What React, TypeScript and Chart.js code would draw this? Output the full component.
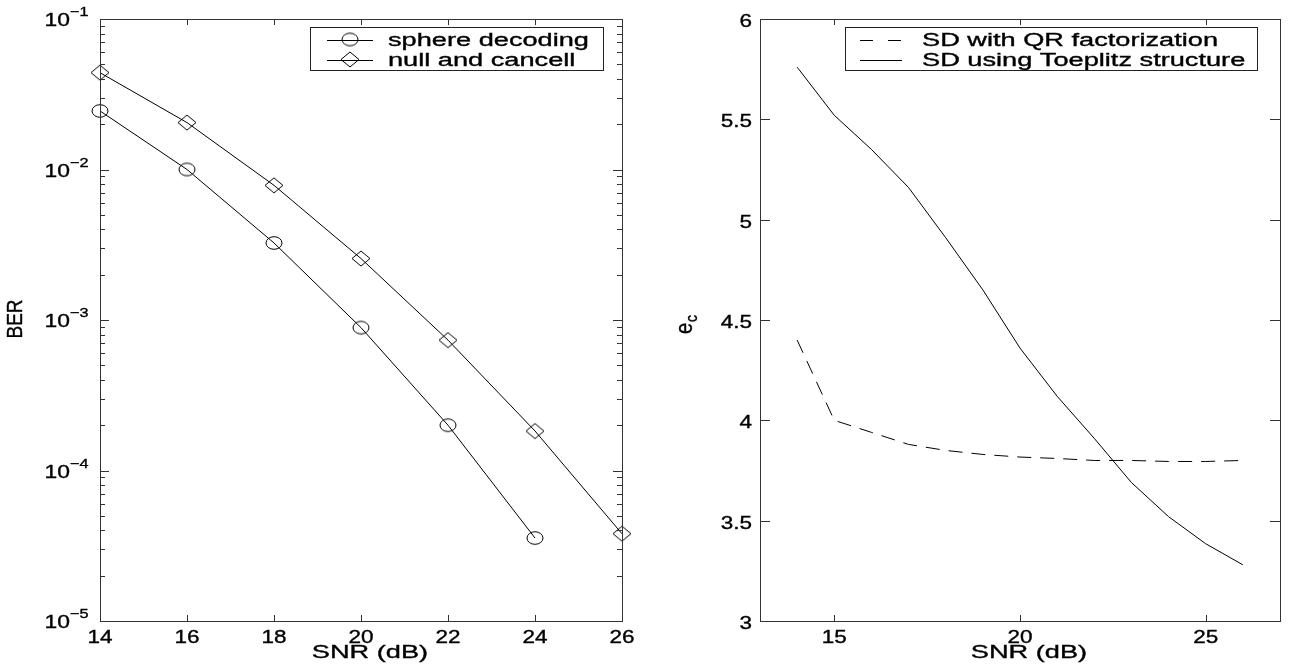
import React, { useEffect, useRef } from "react";
import { Chart, registerables } from "chart.js";

Chart.register(...registerables);

// ---------- data ----------
const snrBer = [14, 16, 18, 20, 22, 24, 26];
const berSphere = [2.45e-2, 1.0e-2, 3.25e-3, 8.9e-4, 2.0e-4, 3.56e-5];
const berNull = [4.4e-2, 2.05e-2, 7.85e-3, 2.56e-3, 7.35e-4, 1.83e-4, 3.8e-5];
const berXTicks = [14, 16, 18, 20, 22, 24, 26];
const berYExponents = [-5, -4, -3, -2, -1];

const snrEc = [14, 15, 16, 17, 18, 19, 20, 21, 22, 23, 24, 25, 26];
const ecQR = [4.4, 4.0, 3.94, 3.88, 3.85, 3.83, 3.817, 3.81, 3.8, 3.8, 3.795, 3.795, 3.8];
const ecToeplitz = [5.76, 5.52, 5.35, 5.16, 4.91, 4.65, 4.36, 4.12, 3.91, 3.69, 3.52, 3.385, 3.28];
const ecXTicks = [15, 20, 25];
const ecYTicks = [3, 3.5, 4, 4.5, 5, 5.5, 6];
const ecYTickLabels = ["3", "3.5", "4", "4.5", "5", "5.5", "6"];

const FONT = '"Liberation Sans", Arial, Helvetica, sans-serif';
const W = 1289;
const H = 669;

function drawText(
  ctx: CanvasRenderingContext2D,
  text: string,
  x: number,
  y: number,
  size: number,
  sx: number,
  align: CanvasTextAlign,
  baseline: CanvasTextBaseline,
  rotate = false
) {
  ctx.save();
  ctx.translate(x, y);
  ctx.scale(sx, 1);
  if (rotate) ctx.rotate(-Math.PI / 2);
  ctx.font = `${size}px ${FONT}`;
  ctx.fillStyle = "#000";
  ctx.strokeStyle = "#000";
  ctx.lineWidth = 0.35;
  ctx.textAlign = align;
  ctx.textBaseline = baseline;
  ctx.fillText(text, 0, 0);
  ctx.strokeText(text, 0, 0);
  ctx.restore();
}

function makeCircle(): HTMLCanvasElement {
  const c = document.createElement("canvas");
  c.width = 20;
  c.height = 16;
  const g = c.getContext("2d")!;
  g.strokeStyle = "#000";
  g.lineWidth = 1;
  g.beginPath();
  g.ellipse(10, 8, 8, 6.3, 0, 0, Math.PI * 2);
  g.stroke();
  return c;
}

function makeDiamond(): HTMLCanvasElement {
  const c = document.createElement("canvas");
  c.width = 20;
  c.height = 17;
  const g = c.getContext("2d")!;
  g.strokeStyle = "#000";
  g.lineWidth = 1;
  g.beginPath();
  g.moveTo(10, 1);
  g.lineTo(19, 8.5);
  g.lineTo(10, 16);
  g.lineTo(1, 8.5);
  g.closePath();
  g.stroke();
  return c;
}

type LegendEntry = { label: string; dash?: number[]; marker?: HTMLCanvasElement };

type AxesCfg = {
  id: string;
  xTicks: number[];
  yTicks: number[];
  yMinor: number[];
  yTickLen: number;
  drawYLabel: (ctx: CanvasRenderingContext2D, y: number, i: number, left: number) => void;
  xTitleX: number;
  drawYTitle: (ctx: CanvasRenderingContext2D) => void;
  legendBox: [number, number, number, number];
  legendLine: [number, number];
  legendTextX: number;
  legend: LegendEntry[];
};

function makeAxesPlugin(cfg: AxesCfg) {
  return {
    id: "matlabAxes_" + cfg.id,
    afterDraw(chart: any) {
      const ctx: CanvasRenderingContext2D = chart.ctx;
      const { left, right, top, bottom } = chart.chartArea;
      const xs = chart.scales.x;
      const ys = chart.scales.y;
      ctx.save();
      // frame
      ctx.strokeStyle = "#333";
      ctx.lineWidth = 1;
      ctx.strokeRect(Math.round(left) + 0.5, Math.round(top) + 0.5, Math.round(right - left), Math.round(bottom - top));
      // x ticks
      ctx.beginPath();
      cfg.xTicks.forEach((v) => {
        const px = Math.round(xs.getPixelForValue(v)) + 0.5;
        ctx.moveTo(px, bottom);
        ctx.lineTo(px, bottom - 6);
        ctx.moveTo(px, top);
        ctx.lineTo(px, top + 6);
      });
      // y ticks
      cfg.yTicks.forEach((v) => {
        const py = Math.round(ys.getPixelForValue(v)) + 0.5;
        ctx.moveTo(left, py);
        ctx.lineTo(left + cfg.yTickLen, py);
        ctx.moveTo(right, py);
        ctx.lineTo(right - cfg.yTickLen, py);
      });
      cfg.yMinor.forEach((v) => {
        const py = Math.round(ys.getPixelForValue(v)) + 0.5;
        ctx.moveTo(left, py);
        ctx.lineTo(left + 5, py);
        ctx.moveTo(right, py);
        ctx.lineTo(right - 5, py);
      });
      ctx.stroke();
      // x tick labels
      cfg.xTicks.forEach((v) => {
        const px = xs.getPixelForValue(v);
        drawText(ctx, String(v), px, 642.5, 18, 1.25, "center", "alphabetic");
      });
      // y tick labels
      cfg.yTicks.forEach((v, i) => {
        cfg.drawYLabel(ctx, ys.getPixelForValue(v), i, left);
      });
      // axis titles
      drawText(ctx, "SNR (dB)", cfg.xTitleX, 658, 18, 1.51, "center", "alphabetic");
      cfg.drawYTitle(ctx);
      // legend
      const [bx1, by1, bx2, by2] = cfg.legendBox;
      ctx.fillStyle = "#fff";
      ctx.fillRect(bx1, by1, bx2 - bx1, by2 - by1);
      ctx.strokeStyle = "#222";
      ctx.lineWidth = 1;
      ctx.setLineDash([]);
      ctx.strokeRect(bx1 + 0.5, by1 + 0.5, bx2 - bx1, by2 - by1);
      cfg.legend.forEach((e, i) => {
        const base = 45.5 + i * 20;
        const ly = base - 6;
        ctx.save();
        ctx.strokeStyle = "#000";
        ctx.lineWidth = 1;
        ctx.setLineDash(e.dash || []);
        ctx.beginPath();
        ctx.moveTo(cfg.legendLine[0], Math.round(ly) + 0.5);
        ctx.lineTo(cfg.legendLine[1], Math.round(ly) + 0.5);
        ctx.stroke();
        ctx.restore();
        if (e.marker) {
          const mx = (cfg.legendLine[0] + cfg.legendLine[1]) / 2;
          ctx.fillStyle = "#fff";
          ctx.drawImage(e.marker, mx - e.marker.width / 2, ly - e.marker.height / 2);
        }
        drawText(ctx, e.label, cfg.legendTextX, base, 18, 1.51, "left", "alphabetic");
      });
      ctx.restore();
    },
  };
}

function baseOptions(yType: "linear" | "logarithmic", xMin: number, xMax: number, yMin: number, yMax: number, yWidth: number, padRight: number) {
  return {
    animation: false as const,
    responsive: false,
    maintainAspectRatio: false,
    events: [] as any[],
    layout: { padding: { left: 0, top: 19, right: padRight, bottom: 0 } },
    plugins: { legend: { display: false }, tooltip: { enabled: false }, title: { display: false } },
    scales: {
      x: {
        type: "linear" as const,
        min: xMin,
        max: xMax,
        grid: { display: false },
        border: { display: false },
        ticks: { display: false },
        afterFit: (s: any) => {
          s.height = 48;
        },
      },
      y: {
        type: yType,
        min: yMin,
        max: yMax,
        grid: { display: false },
        border: { display: false },
        ticks: { display: false },
        afterFit: (s: any) => {
          s.width = yWidth;
        },
      },
    },
  };
}

function pts(xs: number[], ys: number[]) {
  return ys.map((y, i) => ({ x: xs[i], y }));
}

export default function App() {
  const leftRef = useRef<HTMLCanvasElement>(null);
  const rightRef = useRef<HTMLCanvasElement>(null);

  useEffect(() => {
    const circle = makeCircle();
    const diamond = makeDiamond();

    const minor: number[] = [];
    for (let e = -5; e < -1; e++) {
      for (let k = 2; k <= 9; k++) minor.push(k * Math.pow(10, e));
    }

    const leftPlugin = makeAxesPlugin({
      id: "ber",
      xTicks: berXTicks,
      yTicks: berYExponents.map((e) => Math.pow(10, e)),
      yMinor: minor,
      yTickLen: 9,
      drawYLabel: (ctx, y, i) => {
        drawText(ctx, "10", 70, y + 7, 18, 1.27, "right", "alphabetic");
        drawText(ctx, "\u2212" + String(-berYExponents[i]), 70, y - 3, 13, 1.25, "left", "alphabetic");
      },
      xTitleX: 370,
      drawYTitle: (ctx) => {
        drawText(ctx, "BER", 22, 319, 19, 1.2, "center", "alphabetic", true);
      },
      legendBox: [310, 27, 603, 70],
      legendLine: [327, 373],
      legendTextX: 388,
      legend: [
        { label: "sphere decoding", marker: circle },
        { label: "null and cancell", marker: diamond },
      ],
    });

    const leftChart = new Chart(leftRef.current!, {
      type: "line",
      data: {
        datasets: [
          {
            label: "sphere decoding",
            data: pts(snrBer, berSphere),
            borderColor: "#000",
            borderWidth: 1,
            pointStyle: circle as any,
            pointRadius: 8,
            clip: false as any,
          },
          {
            label: "null and cancell",
            data: pts(snrBer, berNull),
            borderColor: "#000",
            borderWidth: 1,
            pointStyle: diamond as any,
            pointRadius: 8,
            clip: false as any,
          },
        ],
      },
      options: baseOptions("logarithmic", 14, 26, 1e-5, 1e-1, 100, W - 622) as any,
      plugins: [leftPlugin],
    });

    const rightPlugin = makeAxesPlugin({
      id: "ec",
      xTicks: ecXTicks,
      yTicks: ecYTicks,
      yMinor: [],
      yTickLen: 10,
      drawYLabel: (ctx, y, i) => {
        drawText(ctx, ecYTickLabels[i], 752, y + 8, 18, 1.25, "right", "alphabetic");
      },
      xTitleX: 1029,
      drawYTitle: (ctx) => {
        drawText(ctx, "e", 692, 334, 20, 1.2, "left", "alphabetic", true);
        drawText(ctx, "c", 697, 322, 14, 1.2, "left", "alphabetic", true);
      },
      legendBox: [845, 27, 1257, 70],
      legendLine: [860, 902],
      legendTextX: 922,
      legend: [
        { label: "SD with QR factorization", dash: [13, 15] },
        { label: "SD using Toeplitz structure" },
      ],
    });

    const rightChart = new Chart(rightRef.current!, {
      type: "line",
      data: {
        datasets: [
          {
            label: "SD with QR factorization",
            data: pts(snrEc, ecQR),
            borderColor: "#000",
            borderWidth: 1,
            borderDash: [14, 9],
            pointRadius: 0,
          },
          {
            label: "SD using Toeplitz structure",
            data: pts(snrEc, ecToeplitz),
            borderColor: "#000",
            borderWidth: 1,
            pointRadius: 0,
          },
        ],
      },
      options: baseOptions("linear", 13, 27, 3, 6, 760, W - 1280) as any,
      plugins: [rightPlugin],
    });

    return () => {
      leftChart.destroy();
      rightChart.destroy();
    };
  }, []);

  const style: React.CSSProperties = { position: "absolute", left: 0, top: 0, width: W, height: H };
  return (
    <div style={{ position: "absolute", left: 0, top: 0, width: W, height: H, background: "#fff" }}>
      <canvas ref={leftRef} width={W} height={H} style={style} />
      <canvas ref={rightRef} width={W} height={H} style={style} />
    </div>
  );
}
